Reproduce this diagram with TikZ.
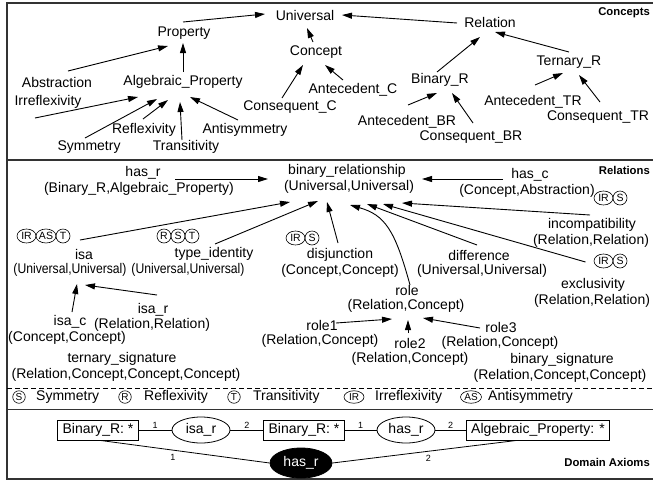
\documentclass[tikz,border=0pt]{standalone}
\usepackage{fontspec}
\usepackage{graphicx}
\setmainfont{Liberation Sans}
\usetikzlibrary{arrows.meta,shapes.geometric,calc}
\newcommand\fA{\fontsize{14}{16}\selectfont}
\newcommand\fB{\fontsize{14}{16}\selectfont}
\newcommand\narrowtext[1]{\scalebox{0.87}[1]{#1}}
\tikzset{
  ct/.style={inner sep=0pt, font=\fA},
  rt/.style={inner sep=0pt, font=\fB},
  arr/.style={-{Triangle[length=10pt,width=6pt]}, line width=0.9pt},
  bdg/.style={draw, circle, inner sep=0pt, minimum size=14pt, line width=0.6pt, font=\fontsize{10.5}{10}\selectfont},
  bdgw/.style={draw, ellipse, inner sep=0pt, minimum width=#1, minimum height=14pt, line width=0.6pt, font=\fontsize{10.5}{10}\selectfont},
  lgb/.style={draw, circle, inner sep=0pt, minimum size=12.5pt, line width=0.6pt, font=\fontsize{10}{10}\selectfont},
  lgbw/.style={draw, ellipse, inner sep=0pt, minimum width=#1, minimum height=12.5pt, line width=0.6pt, font=\fontsize{10}{10}\selectfont},
  ttl/.style={anchor=east, inner sep=0pt, font=\fontsize{11.3}{12}\selectfont\bfseries},
  abox/.style={draw, line width=0.8pt, minimum height=20pt, inner xsep=5pt, inner ysep=0pt, font=\fA},
  aell/.style={draw, ellipse, line width=0.8pt, minimum width=58pt, minimum height=26pt, inner sep=0pt, font=\fA},
  aline/.style={line width=0.8pt},
  num/.style={font=\fontsize{9}{9}\selectfont, inner sep=1pt},
  frame/.style={line width=1.3pt, draw=black!80},
}
\begin{document}
\begin{tikzpicture}[x=1pt,y=-1pt]
\useasboundingbox (0,0) rectangle (653,480);
\fill[white] (0,0) rectangle (653,480);
% frame and separators
\draw[frame] (7,3) rectangle (653.6,479);
\draw[frame] (7,160) -- (653.6,160);
\draw[line width=0.8pt, dash pattern=on 5pt off 3pt] (7,388) -- (653.6,388);
\draw[frame] (7,409.5) -- (653.6,409.5);

% ---------------- Concepts ----------------
\node[ttl] (tconc) at (650,13) {Concepts};
\node[ct] (univ) at (305,15) {Universal};
\node[ct] (prop) at (184,33) {Property};
\node[ct] (concept) at (316,52) {Concept};
\node[ct] (rel) at (490,22) {Relation};
\node[ct] (abs) at (57,82) {Abstraction};
\node[ct] (algp) at (183,82) {Algebraic\_Property};
\node[ct] (irr) at (48,102) {Irreflexivity};
\node[ct] (refl) at (144,130) {Reflexivity};
\node[ct] (antis) at (245,130) {Antisymmetry};
\node[ct] (sym) at (89,147) {Symmetry};
\node[ct] (trans) at (186,147) {Transitivity};
\node[ct] (consc) at (290,107) {Consequent\_C};
\node[ct] (antc) at (353,90) {Antecedent\_C};
\node[ct] (binr) at (440,80) {Binary\_R};
\node[ct] (ternr) at (569,62) {Ternary\_R};
\node[ct] (antbr) at (407,122) {Antecedent\_BR};
\node[ct] (consbr) at (471,137) {Consequent\_BR};
\node[ct] (anttr) at (533,102) {Antecedent\_TR};
\node[ct] (constr) at (598,117) {Consequent\_TR};

\draw[arr] ($(prop)+(-1,-11)$) -- ($(univ)+(-40,-1)$);
\draw[arr] ($(concept)+(-3,-10)$) -- ($(univ)+(2,13)$);
\draw[arr] ($(rel)+(-33,1)$) -- ($(univ)+(37,0)$);
\draw[arr] ($(abs)+(11,-11)$) -- ($(prop)+(-16,13)$);
\draw[arr] ($(algp)+(0,-10)$) -- ($(prop)+(-1,10)$);
\draw[arr] ($(irr)+(-13,16)$) -- ($(algp)+(-45,15)$);
\draw[arr] ($(sym)+(-4,-9)$) -- ($(algp)+(-26,17)$);
\draw[arr] ($(refl)+(-1,-11)$) -- ($(algp)+(-15,18)$);
\draw[arr] ($(trans)+(-4,-7)$) -- ($(algp)+(-3,20)$);
\draw[arr] ($(antis)+(-7,-10)$) -- ($(algp)+(7,15)$);
\draw[arr] ($(consc)+(-8,-9)$) -- ($(concept)+(-13,13)$);
\draw[arr] ($(antc)+(-10,-10)$) -- ($(concept)+(9,13)$);
\draw[arr] ($(binr)+(-3,-8)$) -- ($(rel)+(-10,15)$);
\draw[arr] ($(ternr)+(0,-10)$) -- ($(rel)+(5,10)$);
\draw[arr] ($(antbr)+(1,-17)$) -- ($(binr)+(-3,13)$);
\draw[arr] ($(consbr)+(2,-14)$) -- ($(binr)+(12,13)$);
\draw[arr] ($(anttr)+(2,-17)$) -- ($(ternr)+(-6,11)$);
\draw[arr] ($(constr)+(2,-15)$) -- ($(ternr)+(10,13)$);

% ---------------- Relations ----------------
\node[ttl] (trel) at (650,170) {Relations};
\node[rt] (br) at (347,171) {binary\_relationship};
\node[rt] (brs) at (349,187) {(Universal,Universal)};
\node[rt] (hasr) at (143,173) {has\_r};
\node[rt] (hasrs) at (139,189) {(Binary\_R,Algebraic\_Property)};
\node[rt] (hasc) at (530,175) {has\_c};
\node[rt] (hascs) at (527,191) {(Concept,Abstraction)};
\node[rt] (isa) at (84,254) {isa};
\node[rt] (isas) at (70,270) {\narrowtext{(Universal,Universal)}};
\node[rt] (tid) at (214,254) {type\_identity};
\node[rt] (tids) at (188,270) {\narrowtext{(Universal,Universal)}};
\node[rt] (disj) at (340,255) {disjunction};
\node[rt] (disjs) at (340,271) {(Concept,Concept)};
\node[rt] (diff) at (479,255) {difference};
\node[rt] (diffs) at (482,271) {(Universal,Universal)};
\node[rt] (incomp) at (592,225) {incompatibility};
\node[rt] (incomps) at (591,241) {(Relation,Relation)};
\node[rt] (excl) at (593,285) {exclusivity};
\node[rt] (excls) at (592,301) {(Relation,Relation)};
\node[rt] (role) at (407,290) {role};
\node[rt] (roles) at (406,306) {(Relation,Concept)};
\node[rt] (role1) at (322,325) {role1};
\node[rt] (role1s) at (320,341) {(Relation,Concept)};
\node[rt] (role2) at (410,343) {role2};
\node[rt] (role2s) at (410,359) {(Relation,Concept)};
\node[rt] (role3) at (501,327) {role3};
\node[rt] (role3s) at (500,343) {(Relation,Concept)};
\node[rt] (bsig) at (562,360) {binary\_signature};
\node[rt] (bsigs) at (560,376) {(Relation,Concept,Concept)};
\node[rt] (isac) at (70,322) {isa\_c};
\node[rt] (isacs) at (67,338) {(Concept,Concept)};
\node[rt] (isar) at (153,310) {isa\_r};
\node[rt] (isars) at (152,325) {(Relation,Relation)};
\node[rt] (tsig) at (122,359) {ternary\_signature};
\node[rt] (tsigs) at (126,375) {(Relation,Concept,Concept,Concept)};

% badges
\node[bdgw=19pt] (b1i) at (26.5,236) {IR};
\node[bdgw=20pt] (b1a) at (46,236) {AS};
\node[bdg] (b1t) at (63,236) {T};
\node[bdg] (b2r) at (164,236) {R};
\node[bdg] (b2s) at (178,236) {S};
\node[bdg] (b2t) at (192,236) {T};
\node[bdgw=19pt] (b3i) at (295.5,238) {IR};
\node[bdg] (b3s) at (312,238) {S};
\node[bdgw=19pt] (b4i) at (603.5,198) {IR};
\node[bdg] (b4s) at (620,198) {S};
\node[bdgw=19pt] (b5i) at (603.5,261) {IR};
\node[bdg] (b5s) at (620,261) {S};

\draw[arr] ($(hasr)+(32,6)$) -- ($(br)+(-79,8)$);
\draw[arr] ($(hasc)+(-27,4)$) -- ($(br)+(75,8)$);
\draw[arr] ($(b1t)+(17,4)$) -- ($(brs)+(-59,15)$);
\draw[arr] ($(tid)+(1,-10)$) -- ($(brs)+(-31,14)$);
\draw[arr] ($(disj)+(-2,-12)$) -- ($(brs)+(-22,15)$);
\draw[arr] ($(role)+(3,-5)$) .. controls ($(role)+(-12,-60)$) and ($(role)+(-22,-75)$) .. ($(brs)+(1,18)$);
\draw[arr] ($(diff)+(-2,-10)$) -- ($(brs)+(18,17)$);
\draw[arr] ($(b5i)+(-18,1)$) -- ($(brs)+(34,17)$);
\draw[arr] ($(incomp)+(-2,-10)$) -- ($(brs)+(53,16)$);
\draw[arr] ($(isac)+(2,-10)$) -- ($(isas)+(7,14)$);
\draw[arr] ($(isar)+(4,-15)$) -- ($(isas)+(15,15)$);
\draw[arr] ($(role1)+(14,-2)$) -- ($(roles)+(-14,13)$);
\draw[arr] ($(role2)+(-2,-10)$) -- ($(roles)+(2,14)$);
\draw[arr] ($(role3)+(-21,1)$) -- ($(roles)+(17,12)$);

% ---------------- Legend ----------------
\node[lgb] (lS) at (19,397) {S};
\node[rt, anchor=west] (lSt) at (36,397) {Symmetry};
\node[lgb] (lR) at (125,397) {R};
\node[rt, anchor=west] (lRt) at (144,397) {Reflexivity};
\node[lgb] (lT) at (234,397) {T};
\node[rt, anchor=west] (lTt) at (253,397) {Transitivity};
\node[lgbw=20pt] (lI) at (354,397) {IR};
\node[rt, anchor=west] (lIt) at (375,397) {Irreflexivity};
\node[lgbw=21pt] (lA) at (471,397) {AS};
\node[rt, anchor=west] (lAt) at (488,397) {Antisymmetry};

% ---------------- Domain Axioms ----------------
\node[ttl] (tdom) at (650,462) {Domain Axioms};
\node[abox] (bx1) at (98,430) {Binary\_R: *};
\node[aell] (ae1) at (201,430) {isa\_r};
\node[abox] (bx2) at (304,430) {Binary\_R: *};
\node[aell] (ae2) at (406,430) {has\_r};
\node[abox] (bx3) at (538,430) {Algebraic\_Property: *};
\node[aell, fill=black, text=white, minimum width=62pt, minimum height=30pt] (blk) at (301,463) {has\_r};

\draw[aline] (bx1.east) -- node[num, above] {1} (ae1.west);
\draw[aline] (ae1.east) -- node[num, above] {2} (bx2.west);
\draw[aline] (bx2.east) -- node[num, above] {1} (ae2.west);
\draw[aline] (ae2.east) -- node[num, above] {2} (bx3.west);
\draw[aline] ($(bx1.south)+(2,0)$) -- node[num, pos=0.43, below=3pt] {1} (blk.west);
\draw[aline] (blk.east) -- node[num, pos=0.52, below=3pt] {2} ($(bx3.south)+(-21,0)$);
\end{tikzpicture}
\end{document}
